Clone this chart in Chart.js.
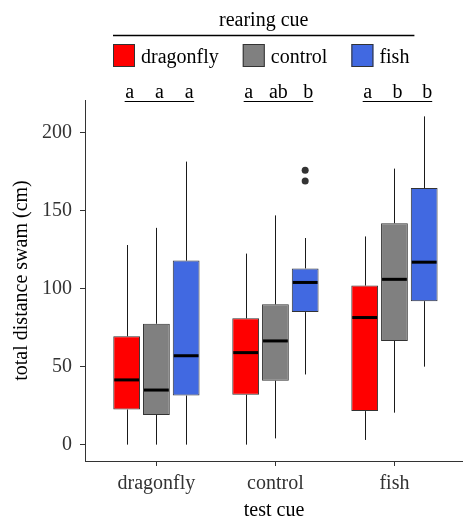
<!DOCTYPE html>
<html>
<head>
<meta charset="utf-8">
<script src="https://cdn.jsdelivr.net/npm/chart.js@4/dist/chart.umd.min.js"></script>
<style>
body { margin: 0; background: #fff; }
</style>
</head>
<body>
<canvas id="chart" width="463" height="517"></canvas>
<script>
var testCues = ['dragonfly', 'control', 'fish'];
var rearingCues = ['dragonfly', 'control', 'fish'];
var yTicks = [0, 50, 100, 150, 200];

// one value per test cue, for each rearing cue
var dragonflyMin = [0, 0, 3];
var dragonflyQ1 = [22.5, 32, 21.5];
var dragonflyMed = [41.5, 59, 81.5];
var dragonflyQ3 = [69.5, 81, 102];
var dragonflyMax = [128, 122.5, 133.5];

var controlMin = [0, 4, 20.5];
var controlQ1 = [19, 41, 66.5];
var controlMed = [35, 66.5, 106];
var controlQ3 = [77.5, 90, 142];
var controlMax = [139, 147, 177];

var fishMin = [0, 45, 50];
var fishQ1 = [31.5, 85, 92];
var fishMed = [57, 104, 117];
var fishQ3 = [118, 113, 164.5];
var fishMax = [181.5, 132.5, 210.5];

var fishOutliers = [[], [176, 169], []];

var letters = [['a', 'a', 'a'], ['a', 'ab', 'b'], ['a', 'b', 'b']];

var colors = ['#ff0000', '#808080', '#4169e1'];
var serif = '"Liberation Serif", "DejaVu Serif", serif';

var stats = [
	{min: dragonflyMin, q1: dragonflyQ1, med: dragonflyMed, q3: dragonflyQ3, max: dragonflyMax, out: [[], [], []]},
	{min: controlMin, q1: controlQ1, med: controlMed, q3: controlQ3, max: controlMax, out: [[], [], []]},
	{min: fishMin, q1: fishQ1, med: fishMed, q3: fishQ3, max: fishMax, out: fishOutliers}
];

function boxData(s) {
	return s.q1.map(function(v, i) {
		return {x: i + 1, y: [v, s.q3[i]]};
	});
}

function line(ctx, x1, y1, x2, y2) {
	ctx.beginPath();
	ctx.moveTo(x1, y1);
	ctx.lineTo(x2, y2);
	ctx.stroke();
}

var boxExtras = {
	id: 'boxExtras',
	afterDatasetsDraw: function(chart) {
		var ctx = chart.ctx;
		var y = chart.scales.y;
		ctx.save();
		chart.data.datasets.forEach(function(ds, i) {
			var s = stats[i];
			chart.getDatasetMeta(i).data.forEach(function(bar, j) {
				var x = Math.round(bar.x) + 0.5;
				var half = bar.width / 2;
				ctx.strokeStyle = '#1a1a1a';
				ctx.lineWidth = 1;
				line(ctx, x, y.getPixelForValue(s.max[j]), x, y.getPixelForValue(s.q3[j]));
				line(ctx, x, y.getPixelForValue(s.q1[j]), x, y.getPixelForValue(s.min[j]));
				ctx.strokeStyle = '#000';
				ctx.lineWidth = 3;
				var my = y.getPixelForValue(s.med[j]);
				line(ctx, bar.x - half + 1, my, bar.x + half - 1, my);
				ctx.fillStyle = '#333';
				s.out[j].forEach(function(v) {
					ctx.beginPath();
					ctx.arc(bar.x, y.getPixelForValue(v), 3.5, 0, Math.PI * 2);
					ctx.fill();
				});
			});
		});
		ctx.restore();
	}
};

var topNotes = {
	id: 'topNotes',
	afterDraw: function(chart) {
		var ctx = chart.ctx;
		ctx.save();
		ctx.font = '20px ' + serif;
		ctx.fillStyle = '#000';
		ctx.textBaseline = 'alphabetic';

		// legend, centred like ggplot's
		var box = 22, gap = 6, itemGap = 24;
		var widths = rearingCues.map(function(t) { return ctx.measureText(t).width; });
		var total = widths.reduce(function(a, w) { return a + box + gap + w; }, 0) + itemGap * (rearingCues.length - 1);
		var left = Math.round(261 - total / 2);
		var x = left;
		rearingCues.forEach(function(t, i) {
			ctx.fillStyle = colors[i];
			ctx.fillRect(x, 44, box, 23);
			ctx.strokeStyle = '#333';
			ctx.lineWidth = 1;
			ctx.strokeRect(x + 0.5, 44.5, box - 1, 22);
			ctx.fillStyle = '#000';
			ctx.textAlign = 'left';
			ctx.fillText(t, x + box + gap, 62.5);
			x += box + gap + widths[i] + itemGap;
		});
		var right = x - itemGap + 5;

		ctx.textAlign = 'center';
		ctx.fillText('rearing cue', (left + right) / 2, 26);
		ctx.strokeStyle = '#000';
		ctx.lineWidth = 1.5;
		line(ctx, left, 35.5, right, 35.5);

		// significance letters per test cue
		var metas = chart.data.datasets.map(function(ds, i) { return chart.getDatasetMeta(i); });
		letters.forEach(function(group, j) {
			var xs = metas.map(function(m) { return m.data[j].x; });
			group.forEach(function(l, i) {
				ctx.fillText(l, xs[i] + 3, 98);
			});
			ctx.lineWidth = 1.2;
			line(ctx, xs[0] - 2, 101.5, xs[xs.length - 1] + 8, 101.5);
		});
		ctx.restore();
	}
};

new Chart(document.getElementById('chart'), {
	type: 'bar',
	data: {
		datasets: rearingCues.map(function(name, i) {
			return {
				label: name,
				data: boxData(stats[i]),
				backgroundColor: colors[i],
				borderColor: '#333',
				borderWidth: 1,
				borderSkipped: false,
				categoryPercentage: 0.75,
				barPercentage: 0.9
			};
		})
	},
	options: {
		responsive: false,
		animation: false,
		layout: {padding: {top: 100, left: 0, right: 0, bottom: 0}},
		plugins: {legend: {display: false}, tooltip: {enabled: false}},
		scales: {
			x: {
				type: 'linear',
				offset: false,
				min: 0.4,
				max: 3.576,
				afterBuildTicks: function(scale) {
					scale.ticks = testCues.map(function(c, i) { return {value: i + 1}; });
				},
				afterFit: function(scale) { scale.height = 56; },
				ticks: {
					autoSkip: false,
					padding: 6,
					color: '#333',
					font: {family: serif, size: 20},
					callback: function(v) { return testCues[v - 1]; }
				},
				grid: {display: true, offset: false, drawOnChartArea: false, drawTicks: true, tickLength: 5, color: '#333'},
				border: {display: true, color: '#333', width: 1},
				title: {display: true, text: 'test cue', color: '#000', font: {family: serif, size: 20}, padding: {top: 0, bottom: -6}}
			},
			y: {
				min: -10.5,
				max: 221,
				afterBuildTicks: function(scale) {
					scale.ticks = yTicks.map(function(v) { return {value: v}; });
				},
				afterFit: function(scale) { scale.width = 85; },
				ticks: {
					padding: 8,
					color: '#333',
					font: {family: serif, size: 20}
				},
				grid: {display: true, drawOnChartArea: false, drawTicks: true, tickLength: 5, color: '#333'},
				border: {display: true, color: '#333', width: 1},
				title: {display: true, text: 'total distance swam (cm)', color: '#000', font: {family: serif, size: 20}, padding: {top: 10, bottom: 0}}
			}
		}
	},
	plugins: [boxExtras, topNotes]
});
</script>
</body>
</html>
